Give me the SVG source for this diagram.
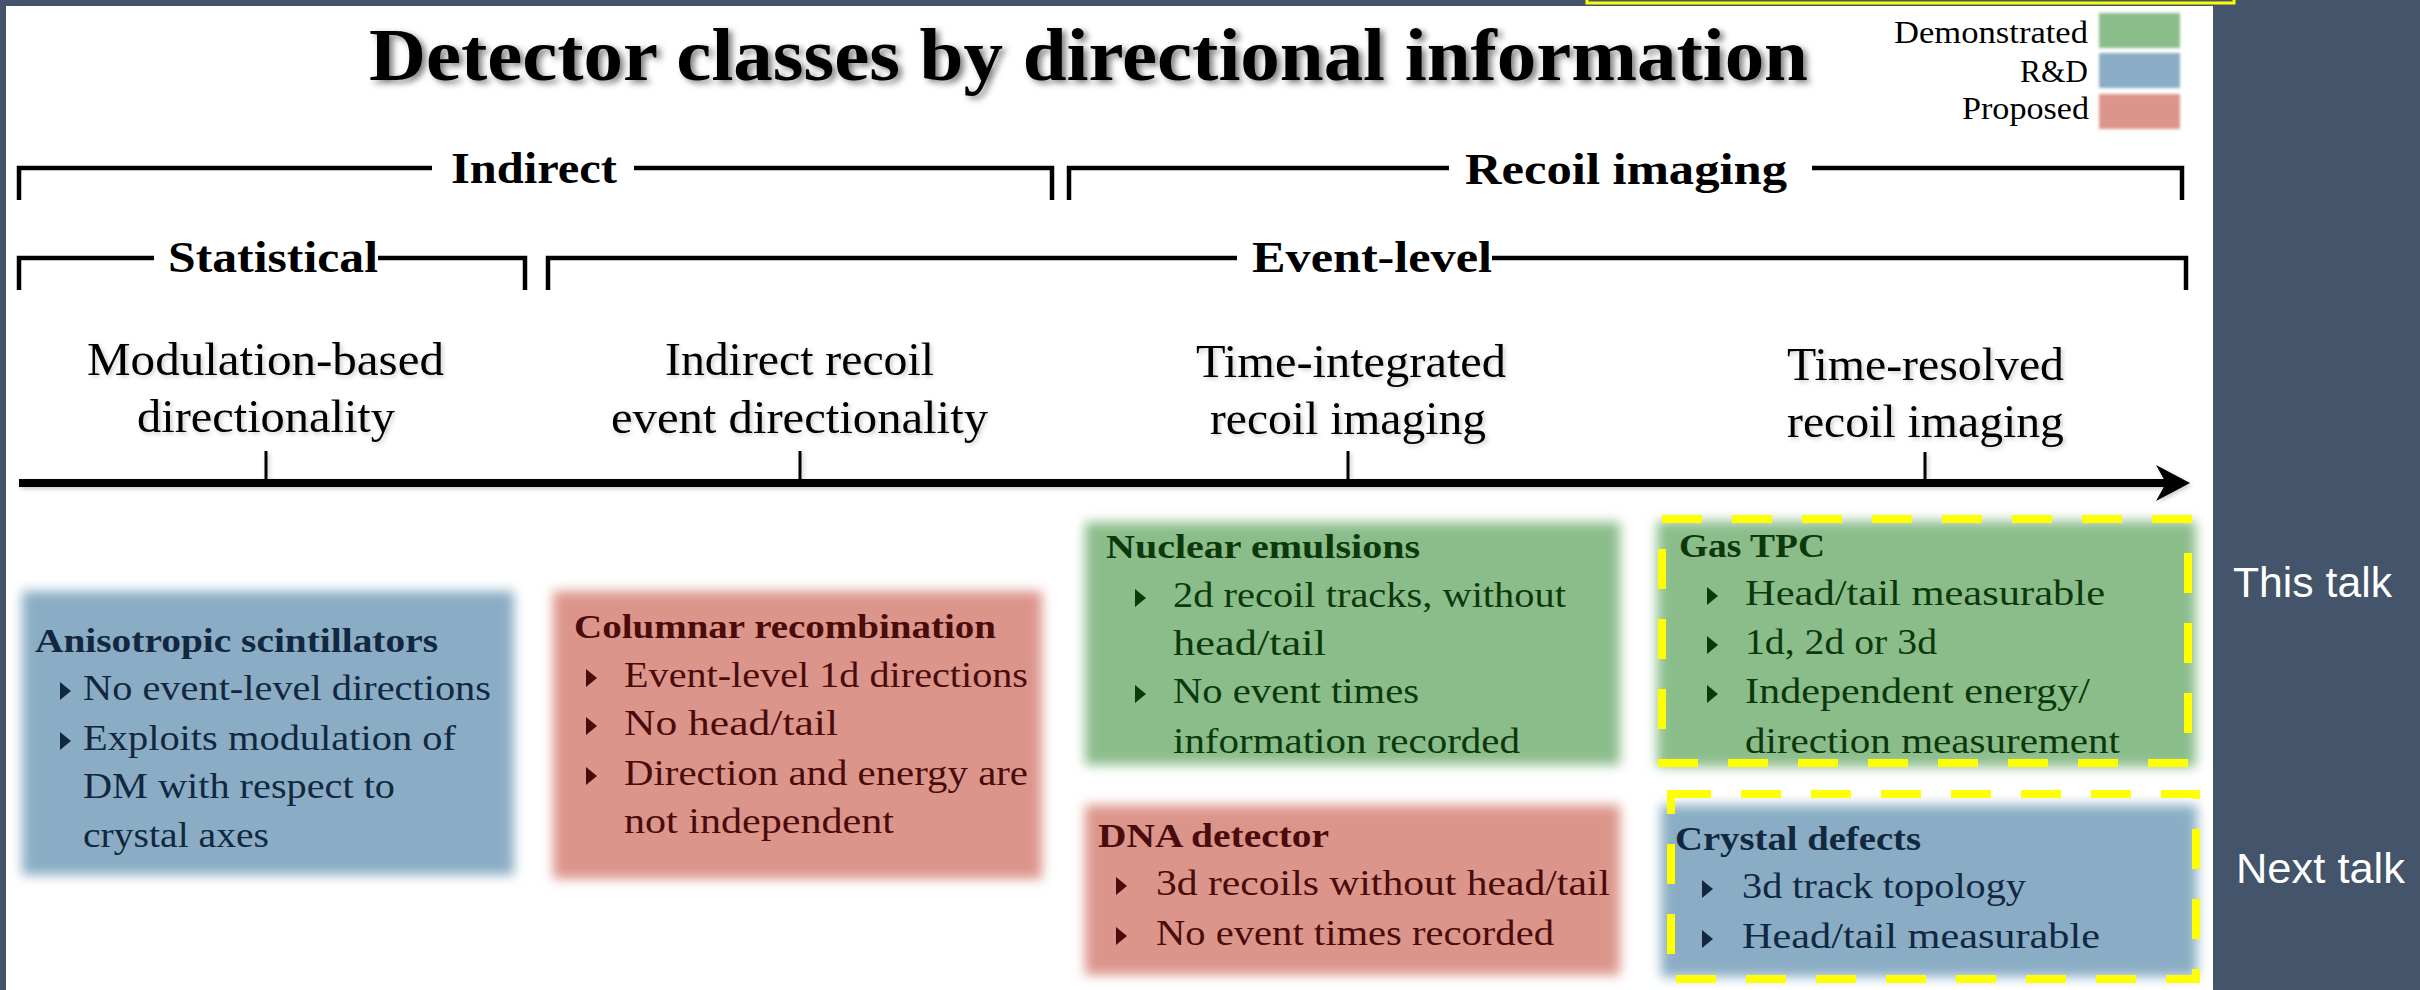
<svg xmlns="http://www.w3.org/2000/svg" xmlns:xlink="http://www.w3.org/1999/xlink" width="2420" height="990" viewBox="0 0 2420 990">
  <style>
    .ttl { font-family: "Liberation Serif", "DejaVu Serif", serif; font-weight: bold; font-size: 73px; fill: #000; }
    .brk { font-family: "Liberation Serif", "DejaVu Serif", serif; font-weight: bold; font-size: 45px; fill: #000; }
    .cat { font-family: "Liberation Serif", "DejaVu Serif", serif; font-size: 46px; fill: #000; }
    .leg { font-family: "Liberation Serif", "DejaVu Serif", serif; font-size: 31px; fill: #000; }
    .hd { font-family: "Liberation Serif", "DejaVu Serif", serif; font-weight: bold; font-size: 34px; }
    .bl { font-family: "Liberation Serif", "DejaVu Serif", serif; font-size: 36.5px; }
    .side { font-family: "Liberation Sans", "Open Sans", sans-serif; font-size: 42px; fill: #ffffff; }
    .line { fill: none; stroke: #000; stroke-width: 4.5; stroke-linejoin: miter; }
    .tick { stroke: #000; stroke-width: 3; }
    .green { fill: #8bbd8b; }
    .blue { fill: #8aadc5; }
    .red { fill: #dc958b; }
    .tg { fill: #0c380c; }
    .tb { fill: #112840; }
    .tr { fill: #4a0b0b; }
    .hl { fill: none; stroke: #ffff00; stroke-width: 8; stroke-dasharray: 40 30; }
  </style>
  <defs>
    <filter id="soft" x="-20%" y="-20%" width="140%" height="140%">
      <feGaussianBlur stdDeviation="6"/>
    </filter>
    <filter id="softSmall" x="-20%" y="-20%" width="140%" height="140%">
      <feGaussianBlur stdDeviation="1.5"/>
    </filter>
    <filter id="shadow" x="-5%" y="-30%" width="110%" height="160%">
      <feDropShadow dx="4" dy="3" stdDeviation="3" flood-color="#000" flood-opacity="0.5"/>
    </filter>
    <filter id="faint" x="-5%" y="-30%" width="110%" height="160%">
      <feDropShadow dx="2" dy="2" stdDeviation="2" flood-color="#000" flood-opacity="0.2"/>
    </filter>
    <path id="tri" d="M0,-9 L11,0 L0,9 Z"/>
  </defs>

  <!-- slide background and white panel -->
  <rect x="0" y="0" width="2420" height="990" fill="#44546a"/>
  <rect x="6" y="6" width="2207" height="990" fill="#ffffff"/>
  <rect x="1587" y="-20" width="647" height="23" fill="none" stroke="#ffff00" stroke-width="3"/>

  <!-- heading -->
  <g id="title">
    <text class="ttl" x="369" y="80" textLength="1439" lengthAdjust="spacingAndGlyphs" filter="url(#shadow)">Detector classes by directional information</text>
  </g>

  <!-- colour key -->
  <g id="legend">
    <rect class="green" x="2099" y="13" width="81" height="35" filter="url(#softSmall)"/>
    <rect class="blue" x="2099" y="53" width="81" height="35" filter="url(#softSmall)"/>
    <rect class="red" x="2099" y="94" width="81" height="35" filter="url(#softSmall)"/>
    <text class="leg" x="1894" y="43" textLength="194" lengthAdjust="spacingAndGlyphs">Demonstrated</text>
    <text class="leg" x="2020" y="82" textLength="68" lengthAdjust="spacingAndGlyphs">R&amp;D</text>
    <text class="leg" x="1962" y="119" textLength="127" lengthAdjust="spacingAndGlyphs">Proposed</text>
  </g>

  <!-- grouping brackets -->
  <g id="bracket-indirect">
    <path class="line" d="M19,200 V168 H432 M634,168 H1052 V200"/>
    <text class="brk" x="451" y="183" textLength="166" lengthAdjust="spacingAndGlyphs">Indirect</text>
  </g>
  <g id="bracket-recoil">
    <path class="line" d="M1069,200 V168 H1449 M1812,168 H2182 V200"/>
    <text class="brk" x="1465" y="184" textLength="322" lengthAdjust="spacingAndGlyphs">Recoil imaging</text>
  </g>
  <g id="bracket-statistical">
    <path class="line" d="M19,290 V258 H154 M378,258 H525 V290"/>
    <text class="brk" x="168" y="272" textLength="210" lengthAdjust="spacingAndGlyphs">Statistical</text>
  </g>
  <g id="bracket-event">
    <path class="line" d="M548,290 V258 H1237 M1492,258 H2186 V290"/>
    <text class="brk" x="1252" y="272" textLength="240" lengthAdjust="spacingAndGlyphs">Event-level</text>
  </g>

  <!-- axis categories -->
  <g id="cat-modulation" filter="url(#faint)">
    <text class="cat" x="87" y="375" textLength="357" lengthAdjust="spacingAndGlyphs">Modulation-based</text>
    <text class="cat" x="137" y="432" textLength="258" lengthAdjust="spacingAndGlyphs">directionality</text>
  </g>
  <g id="cat-indirect" filter="url(#faint)">
    <text class="cat" x="665" y="375" textLength="269" lengthAdjust="spacingAndGlyphs">Indirect recoil</text>
    <text class="cat" x="611" y="433" textLength="377" lengthAdjust="spacingAndGlyphs">event directionality</text>
  </g>
  <g id="cat-integrated" filter="url(#faint)">
    <text class="cat" x="1196" y="377" textLength="310" lengthAdjust="spacingAndGlyphs">Time-integrated</text>
    <text class="cat" x="1210" y="434" textLength="276" lengthAdjust="spacingAndGlyphs">recoil imaging</text>
  </g>
  <g id="cat-resolved" filter="url(#faint)">
    <text class="cat" x="1787" y="380" textLength="277" lengthAdjust="spacingAndGlyphs">Time-resolved</text>
    <text class="cat" x="1787" y="437" textLength="277" lengthAdjust="spacingAndGlyphs">recoil imaging</text>
  </g>

  <!-- axis and ticks -->
  <g id="connectors" filter="url(#faint)">
    <line x1="19" y1="483" x2="2166" y2="483" stroke="#000" stroke-width="8"/>
    <path d="M2190,483 L2156,465 L2166,483 L2156,501 Z" fill="#000"/>
    <line class="tick" x1="266" y1="451" x2="266" y2="483"/>
    <line class="tick" x1="800" y1="451" x2="800" y2="483"/>
    <line class="tick" x1="1348" y1="451" x2="1348" y2="483"/>
    <line class="tick" x1="1925" y1="452" x2="1925" y2="483"/>
  </g>

  <!-- detector boxes -->
  <g id="box-anisotropic">
    <rect class="blue" x="22" y="591" width="492" height="284" filter="url(#soft)"/>
    <g class="tb">
      <text class="hd" x="35" y="652" textLength="403" lengthAdjust="spacingAndGlyphs">Anisotropic scintillators</text>
      <use href="#tri" x="60" y="691"/>
      <text class="bl" x="83" y="700" textLength="408" lengthAdjust="spacingAndGlyphs">No event-level directions</text>
      <use href="#tri" x="60" y="741"/>
      <text class="bl" x="83" y="750" textLength="373" lengthAdjust="spacingAndGlyphs">Exploits modulation of</text>
      <text class="bl" x="83" y="798" textLength="312" lengthAdjust="spacingAndGlyphs">DM with respect to</text>
      <text class="bl" x="83" y="847" textLength="186" lengthAdjust="spacingAndGlyphs">crystal axes</text>
    </g>
  </g>

  <g id="box-columnar">
    <rect class="red" x="553" y="591" width="489" height="288" filter="url(#soft)"/>
    <g class="tr">
      <text class="hd" x="574" y="638" textLength="422" lengthAdjust="spacingAndGlyphs">Columnar recombination</text>
      <use href="#tri" x="586" y="678"/>
      <text class="bl" x="624" y="687" textLength="404" lengthAdjust="spacingAndGlyphs">Event-level 1d directions</text>
      <use href="#tri" x="586" y="726"/>
      <text class="bl" x="624" y="735" textLength="214" lengthAdjust="spacingAndGlyphs">No head/tail</text>
      <use href="#tri" x="586" y="776"/>
      <text class="bl" x="624" y="785" textLength="404" lengthAdjust="spacingAndGlyphs">Direction and energy are</text>
      <text class="bl" x="624" y="833" textLength="270" lengthAdjust="spacingAndGlyphs">not independent</text>
    </g>
  </g>

  <g id="box-emulsions">
    <rect class="green" x="1085" y="522" width="535" height="243" filter="url(#soft)"/>
    <g class="tg">
      <text class="hd" x="1106" y="558" textLength="314" lengthAdjust="spacingAndGlyphs">Nuclear emulsions</text>
      <use href="#tri" x="1135" y="598"/>
      <text class="bl" x="1173" y="607" textLength="393" lengthAdjust="spacingAndGlyphs">2d recoil tracks, without</text>
      <text class="bl" x="1173" y="655" textLength="153" lengthAdjust="spacingAndGlyphs">head/tail</text>
      <use href="#tri" x="1135" y="694"/>
      <text class="bl" x="1173" y="703" textLength="246" lengthAdjust="spacingAndGlyphs">No event times</text>
      <text class="bl" x="1173" y="753" textLength="347" lengthAdjust="spacingAndGlyphs">information recorded</text>
    </g>
  </g>

  <g id="box-dna">
    <rect class="red" x="1085" y="805" width="535" height="170" filter="url(#soft)"/>
    <g class="tr">
      <text class="hd" x="1098" y="847" textLength="231" lengthAdjust="spacingAndGlyphs">DNA detector</text>
      <use href="#tri" x="1116" y="886"/>
      <text class="bl" x="1156" y="895" textLength="454" lengthAdjust="spacingAndGlyphs">3d recoils without head/tail</text>
      <use href="#tri" x="1116" y="936"/>
      <text class="bl" x="1156" y="945" textLength="398" lengthAdjust="spacingAndGlyphs">No event times recorded</text>
    </g>
  </g>

  <g id="box-gastpc">
    <rect class="green" x="1657" y="521" width="539" height="246" filter="url(#soft)"/>
    <g class="tg">
      <text class="hd" x="1679" y="557" textLength="146" lengthAdjust="spacingAndGlyphs">Gas TPC</text>
      <use href="#tri" x="1707" y="596"/>
      <text class="bl" x="1745" y="605" textLength="360" lengthAdjust="spacingAndGlyphs">Head/tail measurable</text>
      <use href="#tri" x="1707" y="645"/>
      <text class="bl" x="1745" y="654" textLength="192" lengthAdjust="spacingAndGlyphs">1d, 2d or 3d</text>
      <use href="#tri" x="1707" y="694"/>
      <text class="bl" x="1745" y="703" textLength="345" lengthAdjust="spacingAndGlyphs">Independent energy/</text>
      <text class="bl" x="1745" y="753" textLength="375" lengthAdjust="spacingAndGlyphs">direction measurement</text>
    </g>
    <rect class="hl" x="1662" y="519" width="526" height="244"/>
  </g>

  <g id="box-crystal">
    <rect class="blue" x="1661" y="805" width="536" height="172" filter="url(#soft)"/>
    <g class="tb">
      <text class="hd" x="1675" y="850" textLength="246" lengthAdjust="spacingAndGlyphs">Crystal defects</text>
      <use href="#tri" x="1702" y="889"/>
      <text class="bl" x="1742" y="898" textLength="284" lengthAdjust="spacingAndGlyphs">3d track topology</text>
      <use href="#tri" x="1702" y="939"/>
      <text class="bl" x="1742" y="948" textLength="358" lengthAdjust="spacingAndGlyphs">Head/tail measurable</text>
    </g>
    <rect class="hl" x="1671" y="794" width="525" height="185"/>
  </g>

  <!-- side notes -->
  <g id="note-this">
    <text class="side" x="2233" y="597" textLength="159" lengthAdjust="spacingAndGlyphs">This talk</text>
  </g>
  <g id="note-next">
    <text class="side" x="2236" y="883" textLength="169" lengthAdjust="spacingAndGlyphs">Next talk</text>
  </g>
</svg>
